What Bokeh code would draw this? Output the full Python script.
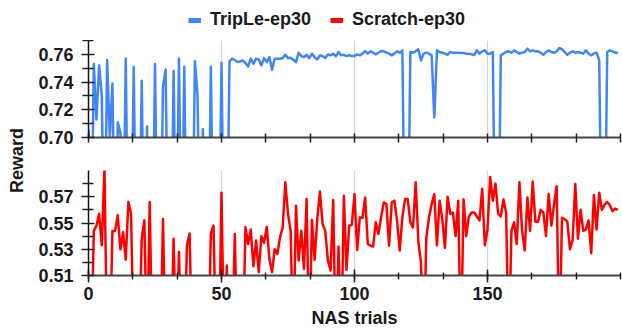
import math
from bokeh.plotting import figure
from bokeh.models import Range1d, FixedTicker, Legend, LegendItem, Label, PrintfTickFormatter
from bokeh.layouts import row, column
from bokeh.embed import file_html
from bokeh.resources import INLINE

FONT = "Liberation Sans"

# ---------------- data ----------------
trials = list(range(200))

triple_reward = [
    0.706, 0.60, 0.753, 0.713, 0.752, 0.730, 0.60, 0.756, 0.701, 0.739,
    0.60, 0.711, 0.703, 0.60, 0.757, 0.60, 0.60, 0.751, 0.60, 0.60,
    0.741, 0.60, 0.708, 0.60, 0.60, 0.753, 0.60, 0.60, 0.737, 0.749,
    0.60, 0.60, 0.748, 0.60, 0.757, 0.60, 0.751, 0.60, 0.60, 0.60,
    0.755, 0.730, 0.60, 0.706, 0.60, 0.60, 0.751, 0.60, 0.60, 0.60,
    0.754, 0.60, 0.60, 0.755, 0.757, 0.756, 0.7544, 0.7549, 0.7556, 0.7537,
    0.7513, 0.7569, 0.7532, 0.7569, 0.7563, 0.7520, 0.7573, 0.7544, 0.7580, 0.7489,
    0.7569, 0.7569, 0.7569, 0.7573, 0.7597, 0.7573, 0.7576, 0.7561, 0.7544, 0.7612,
    0.7588, 0.7580, 0.7597, 0.7573, 0.7605, 0.7580, 0.7563, 0.7593, 0.7588, 0.7573,
    0.7600, 0.7593, 0.7605, 0.7585, 0.7617, 0.7593, 0.7597, 0.7588, 0.7593, 0.7588,
    0.7588, 0.7600, 0.7593, 0.7605, 0.7624, 0.7605, 0.7622, 0.7612, 0.7600, 0.7612,
    0.7624, 0.7622, 0.7612, 0.7605, 0.7593, 0.7605, 0.7622, 0.7612, 0.7629, 0.60,
    0.60, 0.7617, 0.7612, 0.7622, 0.7636, 0.7556, 0.7605, 0.7612, 0.7605, 0.7593,
    0.7145, 0.7629, 0.7617, 0.7612, 0.7605, 0.7597, 0.7617, 0.7612, 0.7612, 0.7612,
    0.7610, 0.7610, 0.7605, 0.7605, 0.7600, 0.7595, 0.7629, 0.7605, 0.7622, 0.7629,
    0.7605, 0.7605, 0.7617, 0.60, 0.60, 0.7593, 0.7605, 0.7617, 0.7622, 0.7612,
    0.7629, 0.7617, 0.7605, 0.7612, 0.7617, 0.7641, 0.7622, 0.7629, 0.7622, 0.7622,
    0.7612, 0.7597, 0.7617, 0.7629, 0.7617, 0.7612, 0.7622, 0.7646, 0.7636, 0.7617,
    0.7597, 0.7612, 0.7622, 0.7612, 0.7617, 0.7612, 0.7605, 0.7629, 0.7605, 0.7593,
    0.7605, 0.7612, 0.7556, 0.60, 0.60, 0.7617, 0.7629, 0.7622, 0.7612, 0.7612,
]

scratch_reward = [
    0.45, 0.45, 0.544, 0.548, 0.557, 0.533, 0.592, 0.45, 0.45, 0.544,
    0.544, 0.556, 0.530, 0.543, 0.522, 0.566, 0.557, 0.45, 0.45, 0.45,
    0.538, 0.552, 0.45, 0.566, 0.45, 0.45, 0.45, 0.45, 0.553, 0.45,
    0.45, 0.45, 0.538, 0.45, 0.528, 0.45, 0.45, 0.533, 0.542, 0.45,
    0.45, 0.45, 0.45, 0.45, 0.45, 0.45, 0.542, 0.548, 0.45, 0.45,
    0.573, 0.45, 0.5176, 0.45, 0.45, 0.5417, 0.45, 0.45, 0.45, 0.547,
    0.534, 0.545, 0.517, 0.5366, 0.5125, 0.540, 0.535, 0.547, 0.5227, 0.5125,
    0.530, 0.5265, 0.539, 0.5467, 0.581, 0.5568, 0.544, 0.45, 0.5632, 0.5214,
    0.544, 0.515, 0.5682, 0.45, 0.5523, 0.522, 0.553, 0.574, 0.5492, 0.544,
    0.5214, 0.5138, 0.5675, 0.45, 0.532, 0.45, 0.5708, 0.5143, 0.548, 0.5487,
    0.572, 0.5295, 0.5543, 0.5538, 0.5695, 0.534, 0.5328, 0.532, 0.5505, 0.5417,
    0.5543, 0.5657, 0.5644, 0.5328, 0.5657, 0.567, 0.5518, 0.529, 0.5543, 0.5682,
    0.5682, 0.5505, 0.5467, 0.581, 0.536, 0.520, 0.45, 0.539, 0.554, 0.5644,
    0.572, 0.533, 0.567, 0.553, 0.531, 0.570, 0.557, 0.558, 0.540, 0.567,
    0.45, 0.568, 0.540, 0.555, 0.558, 0.558, 0.555, 0.552, 0.576, 0.533,
    0.545, 0.585, 0.567, 0.580, 0.557, 0.555, 0.568, 0.558, 0.45, 0.544,
    0.5505, 0.534, 0.581, 0.544, 0.529, 0.5695, 0.544, 0.5816, 0.551, 0.551,
    0.560, 0.558, 0.540, 0.572, 0.548, 0.564, 0.578, 0.45, 0.554, 0.553,
    0.551, 0.530, 0.537, 0.5797, 0.538, 0.560, 0.544, 0.545, 0.552, 0.527,
    0.5713, 0.545, 0.573, 0.560, 0.564, 0.566, 0.5635, 0.559, 0.561, 0.560,
]

series_names = ["TripLe-ep30", "Scratch-ep30"]
series_colors = ["#4285F4", "#FF0000"]

x_major_ticks = [0, 50, 100, 150]
x_minor_ticks = [k * 50 / 3 for k in range(13)]
x_grid_ticks = [50, 100, 150]
top_y_major = [0.70, 0.72, 0.74, 0.76]
top_y_minor = [0.71, 0.73, 0.75, 0.77]
bot_y_major = [0.51, 0.53, 0.55, 0.57]
bot_y_minor = [0.52, 0.54, 0.56, 0.58]

TEXT_COLOR = "#1a1a1a"


def style(p, y_major, y_minor, show_x_labels):
    p.outline_line_color = None
    p.background_fill_color = "white"
    p.border_fill_color = "white"
    p.ygrid.visible = False
    p.xgrid.ticker = FixedTicker(ticks=x_grid_ticks)
    p.xgrid.grid_line_color = "#d4d4d4"
    p.xgrid.grid_line_width = 1.2
    ax = p.xaxis[0]
    ax.axis_line_color = "#444444"
    ax.axis_line_width = 2
    ax.major_tick_in = 6
    ax.major_tick_out = 7
    ax.minor_tick_in = 3
    ax.minor_tick_out = 4
    ax.major_tick_line_color = "#222222"
    ax.minor_tick_line_color = "#222222"
    ax.major_tick_line_width = 1.5
    ax.minor_tick_line_width = 1.5
    ax.major_label_text_font = FONT
    ax.major_label_text_font_style = "bold"
    ax.major_label_text_font_size = "18px"
    ax.major_label_text_color = TEXT_COLOR
    if show_x_labels:
        ax.ticker = FixedTicker(ticks=x_major_ticks, minor_ticks=x_minor_ticks)
        ax.major_label_standoff = 4
        ax.axis_label = "NAS trials"
        ax.axis_label_standoff = 5
        ax.axis_label_text_font = FONT
        ax.axis_label_text_font_style = "bold"
        ax.axis_label_text_font_size = "18px"
        ax.axis_label_text_color = TEXT_COLOR
    else:
        # unlabeled axis: only tick marks
        ax.ticker = FixedTicker(ticks=[], minor_ticks=x_minor_ticks)
        ax.minor_tick_in = 4
        ax.minor_tick_out = 5
        ax.major_label_standoff = 0
    ay = p.yaxis[0]
    ay.ticker = FixedTicker(ticks=y_major, minor_ticks=y_minor)
    ay.formatter = PrintfTickFormatter(format="%.2f")
    ay.axis_line_color = "#111111"
    ay.axis_line_width = 1.5
    ay.major_tick_in = 6
    ay.major_tick_out = 7
    ay.minor_tick_in = 5
    ay.minor_tick_out = 6
    ay.major_tick_line_color = "#222222"
    ay.minor_tick_line_color = "#222222"
    ay.major_tick_line_width = 1.5
    ay.minor_tick_line_width = 1.5
    ay.major_label_standoff = 8
    ay.major_label_text_font = FONT
    ay.major_label_text_font_style = "bold"
    ay.major_label_text_font_size = "18px"
    ay.major_label_text_color = TEXT_COLOR


x_range = Range1d(0, 200)

# legend strip (series drawn out of view, only their legend swatches show)
legfig = figure(width=594, height=40, x_range=Range1d(0, 1), y_range=Range1d(10, 11),
                output_backend="svg", toolbar_location=None,
                x_axis_location=None, y_axis_location=None, min_border=0)
legfig.outline_line_color = None
legfig.grid.visible = False
leg_r1 = legfig.line(trials, triple_reward, line_color=series_colors[0], line_width=5)
leg_r2 = legfig.line(trials, scratch_reward, line_color=series_colors[1], line_width=5)
legend = Legend(items=[LegendItem(label=series_names[0], renderers=[leg_r1]),
                       LegendItem(label=series_names[1], renderers=[leg_r2])],
                orientation="horizontal", location=(100, 10),
                padding=0, margin=0, spacing=19, glyph_width=13, glyph_height=18,
                label_height=18, label_standoff=9,
                border_line_color=None, background_fill_alpha=0,
                label_text_font=FONT, label_text_font_style="bold",
                label_text_font_size="18px", label_text_color=TEXT_COLOR)
legfig.add_layout(legend)

top = figure(width=594, height=120, x_range=x_range, y_range=Range1d(0.70, 0.77),
             output_backend="svg", toolbar_location=None,
             min_border_left=60, min_border_right=2, min_border_top=0, min_border_bottom=23)
top.line(trials, triple_reward, line_color=series_colors[0], line_width=2.5, line_join="round")
style(top, top_y_major, top_y_minor, False)

bot = figure(width=594, height=173, x_range=x_range, y_range=Range1d(0.51, 0.59),
             output_backend="svg", toolbar_location=None,
             min_border_left=60, min_border_right=2, min_border_top=10, min_border_bottom=58)
bot.line(trials, scratch_reward, line_color=series_colors[1], line_width=2.5, line_join="round")
style(bot, bot_y_major, bot_y_minor, True)

lab = figure(width=28, height=333, x_range=Range1d(0, 28), y_range=Range1d(0, 333),
             output_backend="svg", toolbar_location=None,
             x_axis_location=None, y_axis_location=None, min_border=0)
lab.outline_line_color = None
lab.grid.visible = False
lab.add_layout(Label(x=16, y=173, text="Reward", angle=math.pi / 2,
                     text_align="center", text_baseline="middle",
                     text_font=FONT, text_font_style="bold", text_font_size="18px",
                     text_color=TEXT_COLOR))

layout = row(lab, column(legfig, top, bot, spacing=0), spacing=0)

open("out.html", "w").write(file_html(layout, INLINE))
